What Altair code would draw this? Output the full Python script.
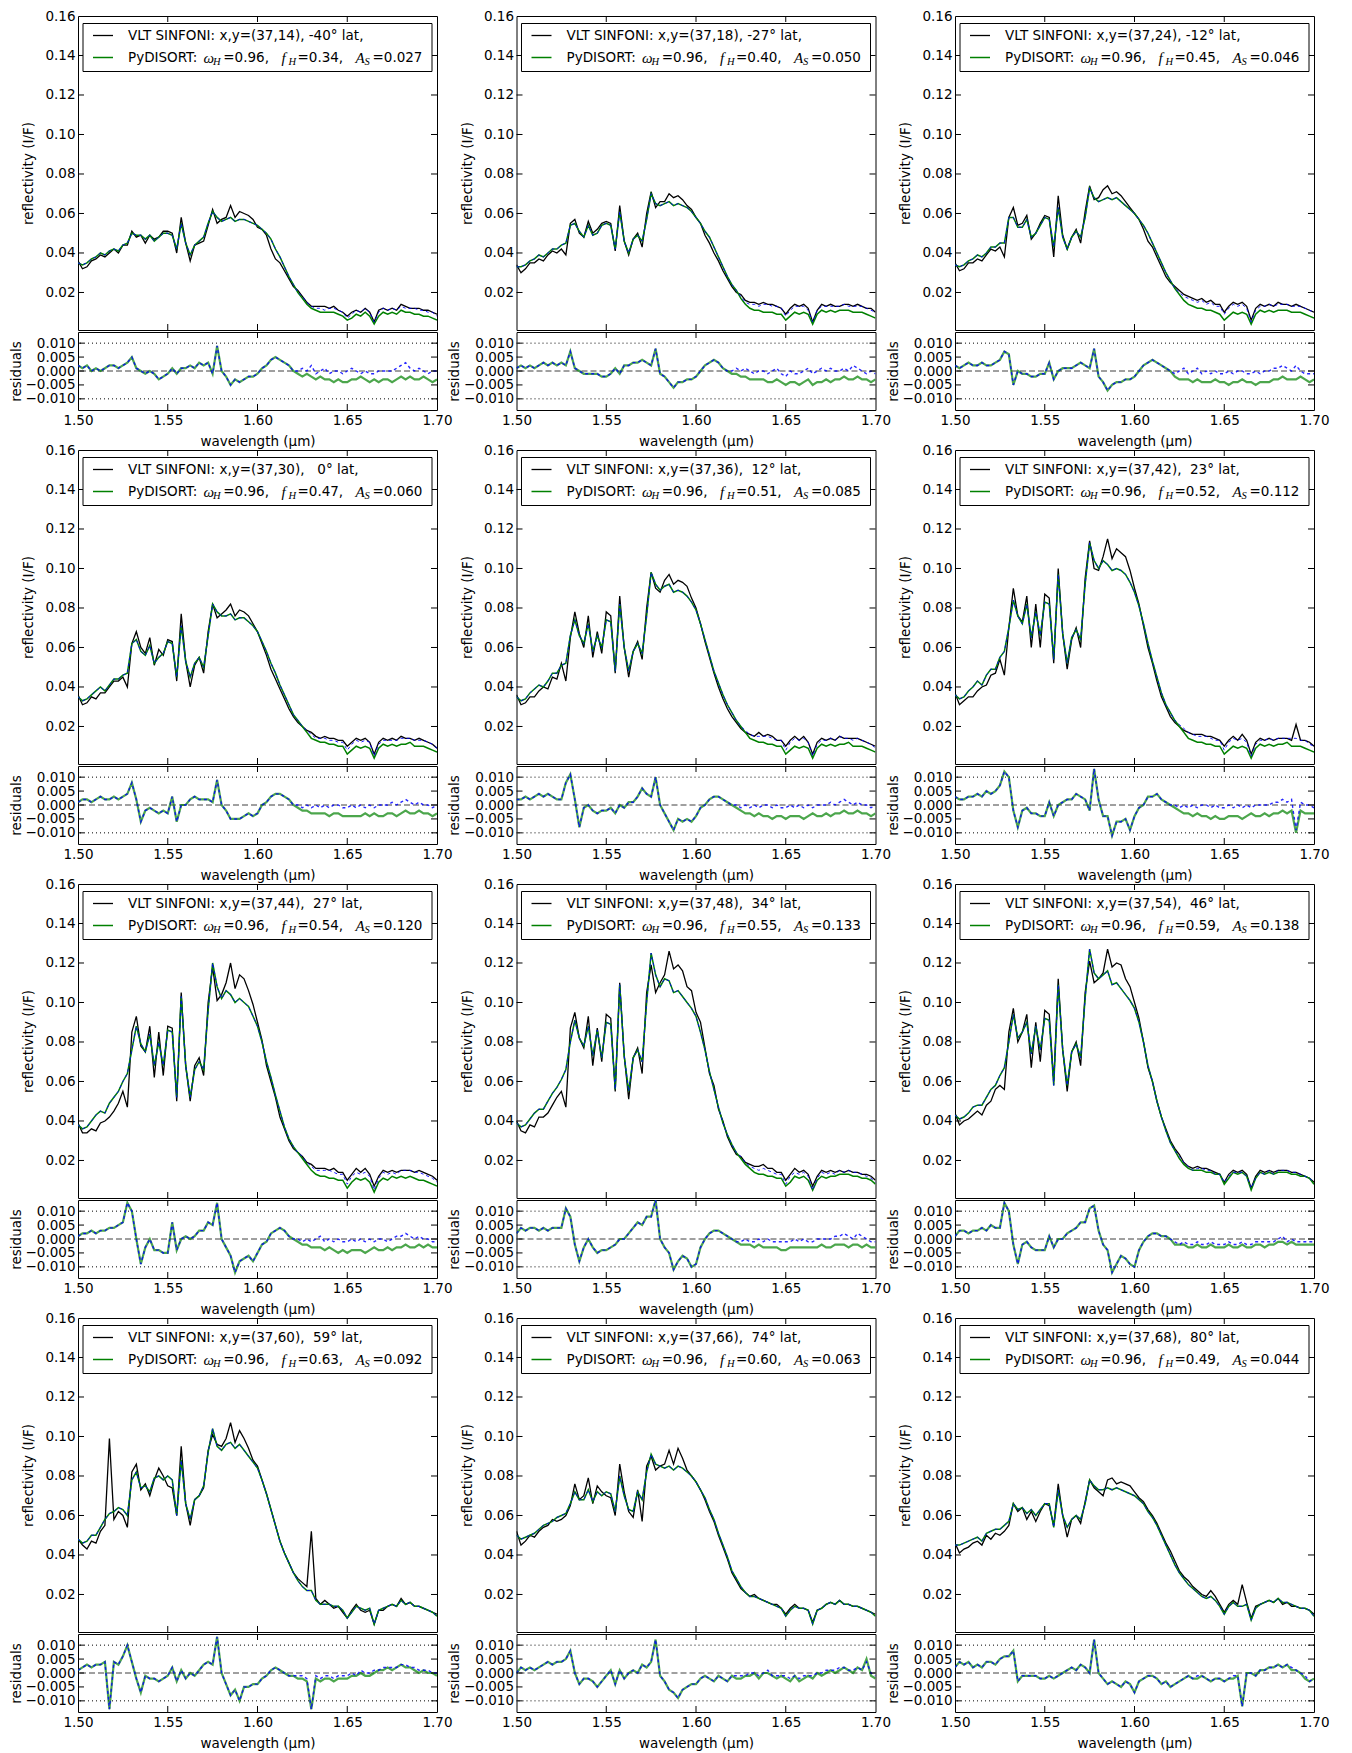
import altair as alt
import pandas as pd

# ---------------- data (reflectivity and residuals in units of 1e-3) ----------------
WAVELENGTH = [1.5, 1.5025, 1.505, 1.5075, 1.51, 1.5125, 1.515, 1.5175, 1.52, 1.5225,
              1.525, 1.5275, 1.53, 1.5325, 1.535, 1.5375, 1.54, 1.5425, 1.545, 1.5475,
              1.55, 1.5525, 1.555, 1.5575, 1.56, 1.5625, 1.565, 1.5675, 1.57, 1.5725,
              1.575, 1.5775, 1.58, 1.5825, 1.585, 1.5875, 1.59, 1.5925, 1.595, 1.5975,
              1.6, 1.6025, 1.605, 1.6075, 1.61, 1.6125, 1.615, 1.6175, 1.62, 1.6225,
              1.625, 1.6275, 1.63, 1.6325, 1.635, 1.6375, 1.64, 1.6425, 1.645, 1.6475,
              1.65, 1.6525, 1.655, 1.6575, 1.66, 1.6625, 1.665, 1.6675, 1.67, 1.6725,
              1.675, 1.6775, 1.68, 1.6825, 1.685, 1.6875, 1.69, 1.6925, 1.695, 1.6975, 1.7]

XY = ["37,14", "37,18", "37,24", "37,30", "37,36", "37,42",
      "37,44", "37,48", "37,54", "37,60", "37,66", "37,68"]
LAT = [-40, -27, -12, 0, 12, 23, 27, 34, 46, 59, 74, 80]
OMEGA_H = "0.96"
F_H = ["0.34", "0.40", "0.45", "0.47", "0.51", "0.52", "0.54", "0.55", "0.59", "0.63", "0.60", "0.49"]
A_S = ["0.027", "0.050", "0.046", "0.060", "0.085", "0.112", "0.120", "0.133", "0.138", "0.092", "0.063", "0.044"]

OBS_01 = [36,32,33,36,37,39,38,40,42,40, 44,44,51,48,49,45,49,47,48,51, 51,50,40,58,45,36,44,45,46,54,
          62,55,57,58,64,58,61,60,59,57, 53,52,49,42,37,35,31,27,23,21, 18,15,13,13,13,13,12,13,11,10,
          8,10,11,10,12,10,5,11,12,11, 12,11,14,13,12,12,12,11,11,10,9]
MOD_G_01 = [35,34,35,37,38,40,39,41,42,41, 44,45,50,49,49,47,49,46,48,50, 50,49,42,55,45,39,44,46,48,55,
            61,58,56,57,58,56,57,57,56,55, 54,52,50,47,42,38,33,28,24,20, 17,14,12,11,10,10,10,10,9,8,
            6,7,9,8,10,8,4,8,10,9, 10,9,11,10,10,9,9,8,8,7,6]
MOD_B_01 = MOD_G_01[:50] + [18,15,13,12,12,11,12,12,11,10, 7,9,11,10,12,10,5,10,12,11, 12,11,13,12,12,12,11,11,10,10,8]
RES_G_01 = [2,1,2,0,1,0,1,2,2,1, 2,3,5,1,0,-1,0,-1,-3,-2, -1,1,-1,1,1,2,1,3,2,3,
            -1,9,0,-2,-5,-3,-4,-3,-2,-2, -1,1,2,4,5,4,3,2,0,-1, -2,-1,-2,-3,-2,-3,-3,-4,-3,-4,
            -4,-3,-3,-2,-3,-4,-3,-4,-3,-3, -4,-3,-2,-3,-2,-3,-3,-2,-3,-4,-3]
RES_B_01 = RES_G_01[:48] + [0,0, 1,0,2,-1,0,1,-1,0,0,-1, 0,1,0,-1,0,-1,-1,0,0,0, 0,1,2,3,1,0,1,0,-1,0,0]

OBS_02 = [34,30,32,35,35,37,36,39,41,40, 42,39,55,57,50,48,56,50,52,55, 56,55,41,64,46,39,47,50,43,60,
          71,63,66,66,70,68,69,67,64,62, 58,55,49,45,40,36,31,27,23,20, 19,16,15,15,14,15,14,14,13,12,
          9,12,14,13,14,12,5,11,14,13, 14,13,13,14,14,13,14,13,12,12,10]
MOD_G_02 = [33,33,34,36,37,39,38,40,42,42, 44,45,54,55,51,48,54,49,50,54, 55,54,42,61,46,40,47,49,46,57,
            70,65,64,65,66,64,65,64,63,61, 58,55,51,48,43,38,33,28,24,21, 17,14,12,11,11,10,10,10,9,9,
            6,8,10,9,10,9,4,9,11,10, 11,10,11,11,11,10,10,10,9,8,7]
MOD_B_02 = MOD_G_02[:50] + [18,15,14,14,13,14,14,13,13,12, 8,11,13,13,13,11,5,11,13,13, 13,13,13,14,13,13,13,13,12,11,10]
RES_G_02 = [1,2,1,2,1,2,3,2,3,2, 3,2,7,1,0,-1,-1,-1,-1,-2, -2,-1,1,-1,2,2,3,3,4,3,
            2,8,-1,-2,-4,-6,-4,-4,-3,-3, -2,0,2,3,4,3,1,0,-1,-1, -2,-2,-3,-3,-3,-3,-4,-4,-3,-4,
            -5,-4,-4,-5,-4,-3,-5,-4,-4,-3, -4,-3,-3,-2,-3,-3,-2,-3,-3,-4,-3]
RES_B_02 = RES_G_02[:48] + [0,1, 0,1,0,-1,0,0,-1,0,1,-1, -2,0,-1,-1,0,1,-1,0,1,0, 1,0,0,1,0,2,1,0,-1,0,-1]

OBS_03 = [35,31,32,35,35,37,36,39,42,41, 43,38,58,63,54,55,59,47,50,55, 59,58,38,69,49,42,48,52,45,61,
          74,67,68,72,74,70,71,69,66,63, 60,57,52,46,43,38,33,28,25,23, 21,19,18,17,16,17,15,16,14,14,
          10,13,15,14,15,13,6,12,14,13, 14,13,15,14,14,13,14,13,12,11,10]
MOD_G_03 = [34,33,34,36,37,39,38,40,43,43, 45,45,58,58,53,53,57,48,50,54, 58,57,43,63,48,42,48,51,48,58,
            73,68,66,67,68,67,68,66,64,62, 60,57,54,50,45,40,35,30,26,22, 19,16,14,13,12,12,11,11,10,9,
            6,8,10,9,10,9,4,9,11,10, 11,10,11,11,11,10,10,10,9,8,7]
MOD_B_03 = MOD_G_03[:50] + [20,18,17,16,15,16,14,15,13,13, 9,12,14,13,14,12,5,11,13,13, 14,13,14,14,14,13,13,13,12,11,10]
RES_G_03 = [2,1,2,3,2,2,3,2,2,3, 4,7,6,-5,0,-1,-1,-2,-2,-1, -1,3,-3,0,1,1,1,2,3,2,
            1,8,-2,-4,-7,-5,-4,-4,-3,-3, -2,0,2,3,4,3,2,1,0,-2, -3,-3,-3,-4,-3,-4,-4,-4,-3,-4,
            -4,-5,-4,-4,-3,-4,-4,-5,-4,-4, -4,-3,-3,-2,-3,-3,-3,-2,-3,-4,-3]
RES_B_03 = RES_G_03[:48] + [0,-1, 0,1,-1,0,1,-1,0,-1,0,-1, -1,0,-1,0,0,-1,-1,0,-1,0, 0,1,1,2,1,0,2,0,-1,-1,-1]

OBS_04 = [36,31,32,35,34,37,37,40,43,43, 45,40,62,68,60,57,65,51,59,56, 64,63,43,77,53,40,51,55,47,68,
          82,75,77,79,82,76,79,78,76,72, 68,62,56,49,44,39,34,29,25,22, 20,18,17,15,14,15,14,14,13,13,
          10,12,14,13,14,12,6,12,14,13, 14,13,15,14,14,13,14,13,12,11,9]
MOD_G_04 = [35,33,34,36,38,40,38,41,44,44, 46,47,62,64,58,56,61,52,55,57, 63,62,45,71,53,45,52,55,50,66,
            82,78,76,76,77,74,75,75,73,71, 68,63,58,52,47,41,36,31,26,23, 20,17,14,13,12,12,11,11,10,10,
            6,8,10,9,10,9,4,9,11,10, 11,10,11,11,12,10,10,10,9,8,7]
MOD_B_04 = MOD_G_04[:50] + [20,18,16,14,14,14,13,13,12,12, 8,11,13,12,13,12,5,11,13,13, 13,13,14,14,14,13,13,13,12,11,9]
RES_G_04 = [1,2,2,1,2,3,2,2,3,2, 3,4,8,2,-6,-2,-1,-2,-3,-2, -3,3,-6,0,0,2,3,2,2,2,
            1,9,0,-2,-5,-5,-5,-4,-3,-4, -3,0,1,3,4,4,3,2,0,-1, -2,-2,-3,-3,-3,-3,-4,-3,-3,-4,
            -4,-4,-4,-4,-3,-4,-3,-4,-4,-3, -3,-4,-3,-2,-3,-3,-2,-3,-3,-4,-3]
RES_B_04 = RES_G_04[:48] + [0,0, -1,0,-1,0,-1,0,-1,0,0,-1, -1,0,-1,0,-1,0,-1,0,0,0, 1,0,1,2,1,0,1,0,0,-1,0]

OBS_05 = [36,31,32,35,35,38,40,39,45,44, 52,43,65,78,67,60,76,55,68,57, 78,76,47,86,60,45,58,63,54,80,
          98,90,88,94,97,92,94,93,91,85, 80,72,63,55,47,40,34,29,25,22, 19,17,16,15,17,15,16,15,13,13,
          10,13,15,13,15,12,6,12,14,13, 14,13,15,14,14,14,14,13,12,11,10]
MOD_G_05 = [35,33,34,37,39,41,40,43,47,47, 51,52,66,74,66,62,72,58,66,60, 74,73,48,82,60,48,58,62,57,76,
            98,92,89,91,92,88,89,88,86,83, 79,72,64,56,48,42,36,31,27,23, 20,17,14,13,12,12,11,11,10,10,
            6,8,10,9,10,9,4,9,11,10, 11,10,11,11,12,10,10,10,9,8,7]
MOD_B_05 = MOD_G_05[:50] + [20,18,16,15,15,15,15,14,13,13, 8,12,14,13,14,12,5,11,13,13, 14,13,15,14,14,13,14,13,12,11,9]
RES_G_05 = [2,2,3,2,3,4,3,4,3,2, 2,8,11,2,-8,-1,0,-2,-3,-2, -2,-1,-3,0,-1,1,1,3,6,4,
            3,10,0,-3,-6,-9,-5,-6,-5,-6, -4,-1,0,2,3,3,2,1,0,-1, -2,-3,-3,-4,-3,-4,-4,-5,-4,-4,
            -5,-4,-4,-4,-5,-4,-3,-4,-4,-3, -4,-3,-3,-2,-3,-3,-2,-3,-3,-4,-3]
RES_B_05 = RES_G_05[:48] + [0,0, -1,0,-1,0,-1,0,0,-1,0,-1, -1,0,-1,0,-1,0,-1,0,0,0, 1,0,1,2,1,0,1,0,0,-1,0]

OBS_06 = [37,31,33,35,35,38,40,41,46,47, 54,46,70,90,76,73,86,60,82,60, 87,85,52,100,67,49,64,70,60,95,
          114,100,99,106,115,105,110,108,106,99, 90,82,71,60,52,43,35,30,25,22, 20,18,17,16,16,16,15,15,14,13,
          10,13,15,13,16,13,6,12,14,13, 14,13,14,14,14,13,21,13,13,12,10]
MOD_G_06 = [36,34,35,38,40,43,41,46,49,49, 55,58,70,84,76,72,82,65,78,66, 83,82,54,97,67,52,65,69,64,92,
            113,104,100,104,102,99,100,99,97,93, 88,81,72,62,53,45,37,31,27,23, 20,17,14,13,12,12,11,11,10,10,
            6,8,10,9,10,9,4,9,11,10, 11,10,11,11,12,10,10,10,9,8,7]
MOD_B_06 = MOD_G_06[:50] + [21,19,17,16,15,15,15,14,13,13, 8,12,14,13,14,12,5,11,13,13, 14,13,14,14,14,14,14,13,13,11,10]
RES_G_06 = [3,2,2,3,3,4,3,5,4,5, 7,12,10,-2,-8,-2,-1,-3,-3,-4, -4,1,-4,0,1,2,2,4,3,2,
            -2,13,2,-4,-4,-11,-6,-6,-5,-9, -4,-1,0,3,3,4,2,1,0,-1, -2,-3,-3,-4,-3,-4,-4,-5,-4,-5,
            -5,-4,-4,-4,-5,-4,-3,-4,-4,-3, -4,-3,-3,-2,-3,-2,-10,-2,-3,-3,-3]
RES_B_06 = RES_G_06[:48] + [0,0, -1,0,-1,0,-1,0,0,-1,0,-1, -1,0,-1,0,-1,0,-1,0,0,0, 0,1,1,2,1,2,-9,1,0,0,-1]

OBS_07 = [39,34,34,36,35,39,40,42,45,49, 55,47,85,93,78,75,88,62,85,63, 88,87,50,105,68,50,68,72,63,100,
          118,101,104,110,120,107,114,112,106,99, 90,81,68,60,52,42,36,30,26,24, 22,19,18,16,16,16,15,16,14,14,
          10,13,16,14,16,13,7,12,15,14, 15,14,15,15,15,14,15,14,13,12,10]
MOD_G_07 = [38,36,37,40,43,45,44,49,52,55, 60,64,76,88,79,75,84,68,80,68, 86,85,52,103,68,52,66,70,66,96,
            120,108,102,106,104,100,102,100,98,93, 88,80,70,62,53,45,37,31,27,24, 21,18,15,13,12,12,11,11,10,10,
            6,9,11,10,11,9,4,9,11,10, 12,11,12,11,12,11,10,10,9,8,7]
MOD_B_07 = MOD_G_07[:50] + [22,19,17,15,15,15,15,14,13,13, 8,12,14,13,14,12,5,11,14,13, 14,13,15,15,15,14,14,13,12,11,9]
RES_G_07 = [1,2,2,3,2,3,3,4,4,5, 6,13,10,0,-9,-3,0,-4,-4,-5, -5,6,-4,0,1,0,1,3,3,6,
            5,13,0,-3,-6,-12,-8,-7,-6,-8, -5,-2,-1,2,3,4,3,1,0,-1, -2,-2,-3,-3,-3,-4,-3,-4,-5,-4,
            -5,-4,-4,-4,-5,-4,-3,-4,-4,-3, -4,-3,-3,-2,-3,-3,-2,-3,-2,-3,-3]
RES_B_07 = RES_G_07[:48] + [0,0, -1,0,-1,0,1,-1,0,-1,0,-1, -1,0,-1,0,-1,0,-1,0,0,-1, 0,1,1,2,1,0,1,0,0,-1,-1]

OBS_08 = [40,35,34,38,37,42,42,44,48,52, 55,47,87,95,82,77,93,68,87,70, 94,92,55,110,73,51,72,77,64,105,
          119,105,110,114,126,117,119,116,108,106, 95,90,77,64,58,46,40,32,27,23, 22,19,18,17,17,18,16,16,14,14,
          10,13,16,14,15,13,7,12,15,14, 15,14,15,14,15,14,14,13,13,12,10]
MOD_G_08 = [39,37,38,41,44,46,46,50,54,57, 61,66,80,91,82,78,88,73,86,72, 90,89,56,109,73,55,72,76,70,100,
            125,114,108,112,111,105,106,103,100,97, 93,85,76,65,56,47,39,33,28,24, 21,18,16,14,13,13,12,12,11,11,
            7,9,12,11,12,10,5,10,12,11, 12,12,13,13,13,12,12,11,11,10,8]
MOD_B_08 = MOD_G_08[:50] + [22,19,17,16,15,16,15,14,13,13, 8,12,14,13,14,12,5,11,14,13, 14,13,15,14,15,14,14,13,12,11,9]
RES_G_08 = [2,4,3,4,4,3,4,3,4,4, 4,11,8,-2,-8,-3,0,-3,-5,-4, -4,-3,-2,0,0,2,4,6,5,8,
            8,14,0,-3,-5,-11,-8,-6,-7,-10, -9,-3,0,2,3,3,2,1,0,-1, -2,-2,-2,-3,-2,-3,-3,-3,-3,-4,
            -4,-3,-3,-3,-3,-3,-3,-3,-2,-3, -3,-2,-2,-2,-3,-2,-2,-3,-2,-3,-3]
RES_B_08 = RES_G_08[:48] + [0,-1, -1,0,-1,-1,0,-1,0,-1,-1,-1, -1,-1,0,-1,0,-1,-1,0,0,0, 0,1,1,2,1,0,2,1,0,-1,-1]

OBS_09 = [44,38,40,41,43,45,43,48,50,56, 58,56,85,97,80,85,94,67,90,70, 96,94,60,112,76,55,75,80,68,105,
          121,110,112,115,127,118,120,119,112,108, 100,92,80,67,60,50,42,36,30,26, 23,19,17,16,17,16,16,15,14,13,
          9,13,15,14,15,13,6,12,15,14, 15,14,15,15,15,14,14,13,12,11,9]
MOD_G_09 = [43,41,42,44,47,48,48,52,56,58, 63,67,80,94,82,85,90,74,88,76, 92,91,58,109,76,58,75,79,72,102,
            127,115,112,114,116,109,110,107,104,101, 97,90,80,68,60,50,42,35,29,25, 21,18,16,15,15,15,14,14,13,13,
            8,11,14,13,14,12,5,11,14,13, 14,13,14,14,14,13,13,12,12,11,8]
MOD_B_09 = MOD_G_09[:50] + [22,19,17,15,16,16,15,15,13,13, 9,12,14,14,14,12,6,11,14,13, 15,13,15,15,15,14,14,13,12,11,9]
RES_G_09 = [1,3,3,2,3,3,4,3,5,4, 4,13,10,-2,-9,-2,-1,-3,-4,-4, -4,1,-3,0,0,2,3,4,6,6,
            11,12,3,-2,-4,-12,-9,-6,-7,-9, -10,-4,-1,1,2,2,1,1,0,-2, -2,-2,-3,-3,-2,-3,-3,-2,-3,-3,
            -3,-2,-3,-3,-2,-3,-3,-2,-2,-3, -2,-2,-1,-1,-2,-1,-2,-2,-2,-2,-2]
RES_B_09 = RES_G_09[:48] + [0,-1, -2,-1,-2,-2,-1,-2,-2,-1,-2,-2, -2,-1,-2,-2,-1,-2,-2,-1,-1,-1, -1,-1,0,1,-1,0,-1,-1,-1,-1,-1]

OBS_10 = [48,45,43,47,46,52,55,99,58,62, 60,54,82,86,73,76,70,78,84,80, 75,74,60,95,66,55,68,70,74,93,
          101,96,95,99,107,97,103,99,94,88, 85,78,71,63,55,47,41,36,31,28, 26,24,52,18,15,17,15,13,14,11,
          8,12,15,12,11,12,5,12,12,14, 15,14,18,15,16,14,14,13,12,11,10]
MOD_G_10 = [48,46,47,50,50,54,58,61,62,64, 63,60,78,82,74,75,72,79,80,78, 80,78,60,88,66,58,68,70,75,92,
            104,95,93,96,97,94,96,93,90,87, 84,78,71,63,55,47,41,36,31,27, 24,22,22,17,15,15,15,14,14,12,
            8,11,14,13,12,13,5,12,13,14, 15,14,17,15,16,14,14,13,12,11,9]
MOD_B_10 = list(MOD_G_10)  # blue dashed coincides with green here
RES_G_10 = [1,2,3,2,3,3,4,-13,4,3, 6,10,4,-2,-7,-1,-2,-2,-3,-2, -1,2,-3,1,-2,0,-1,1,3,4,
            3,13,0,-4,-8,-6,-10,-5,-5,-4, -4,-2,-1,1,2,1,0,-1,-1,-2, -2,-3,-13,-2,-3,-2,-2,-3,-2,-2,
            -2,-1,-1,0,-1,-1,0,1,1,2, 1,2,3,2,2,1,0,1,0,0,-1]
RES_B_10 = RES_G_10[:48] + [-1,-1, -1,-2,-13,-1,-2,-1,-1,-2,-1,-1, -1,0,-1,1,0,0,1,1,2,2, 2,2,3,3,2,2,1,1,1,0,0]

OBS_11 = [52,45,47,50,49,52,54,55,58,57, 58,60,65,76,68,70,79,66,75,72, 70,69,60,86,72,62,59,73,57,85,
          90,83,85,86,93,86,94,89,83,80, 77,73,68,62,57,50,44,38,31,27, 23,21,19,20,18,17,16,15,15,13,
          10,13,15,13,13,12,6,12,13,15, 16,15,17,15,15,14,14,13,12,11,10]
MOD_G_11 = [50,48,49,50,51,53,55,56,57,59, 60,61,66,72,68,68,73,67,72,70, 72,71,62,80,70,63,62,72,68,82,
            91,86,85,84,85,83,85,84,82,80, 77,73,69,63,58,51,45,39,32,28, 24,21,19,19,18,17,16,15,14,13,
            9,12,14,13,13,12,5,12,13,15, 16,15,17,15,15,14,14,13,12,11,9]
MOD_B_11 = list(MOD_G_11)
RES_G_11 = [0,2,1,2,1,2,3,4,3,4, 4,5,8,0,-4,-2,-2,-3,-5,-3, -1,1,-4,1,-2,0,1,0,3,2,
            4,12,-1,-3,-6,-7,-9,-6,-5,-4, -4,-2,-1,-2,-3,-1,-2,-3,-1,-2, -2,-1,-1,0,-2,0,0,-1,-2,-1,
            -2,-3,-1,-3,-2,-1,-2,0,-1,0, 1,0,1,2,1,0,2,1,5,-1,-2]
RES_B_11 = RES_G_11[:48] + [-1,-1, -1,-1,0,0,-1,0,1,-1,-1,-1, -1,-2,-1,-2,-1,-1,-1,0,0,1, 1,1,2,2,1,1,2,1,4,0,-1]

OBS_12 = [46,41,43,44,46,47,45,50,48,51, 50,52,55,66,62,64,58,62,57,62, 66,65,55,76,60,49,58,60,56,67,
          78,74,72,70,78,79,76,77,76,75, 72,69,67,63,60,56,51,46,42,37, 32,29,27,24,22,20,19,22,19,15,
          11,15,17,15,25,16,8,14,15,16, 17,16,18,15,16,14,14,13,13,12,10]
MOD_G_12 = [45,45,46,47,48,49,47,51,52,53, 53,55,57,66,63,64,61,63,60,63, 66,66,54,73,60,54,58,60,58,66,
            78,75,73,73,74,73,74,73,72,71, 70,68,66,62,59,55,50,45,40,35, 31,28,25,23,21,19,18,19,17,14,
            10,14,16,14,14,15,7,13,15,16, 17,16,18,16,16,15,14,13,13,12,9]
MOD_B_12 = list(MOD_G_12)
RES_G_12 = [2,4,3,4,2,3,2,4,4,3, 5,6,6,8,-3,-1,-1,-1,-1,-2, -2,-1,-2,-1,0,1,2,1,3,2,
            0,12,0,-2,-4,-3,-4,-5,-3,-4, -7,-3,-2,-1,-1,-2,-4,-3,-5,-4, -3,-2,-1,-2,-2,-1,-2,-3,-2,-2,
            -3,-2,-2,-1,-12,0,0,-1,1,1, 2,2,3,2,3,1,1,0,-2,-3,-2]
RES_B_12 = RES_G_12[:48] + [-5,-4, -3,-2,-1,-2,-1,-1,-2,-3,-2,-2, -3,-2,-1,-1,-12,0,0,-1,1,1, 2,2,3,2,3,2,1,0,-1,-3,-2]

OBS = [OBS_01, OBS_02, OBS_03, OBS_04, OBS_05, OBS_06, OBS_07, OBS_08, OBS_09, OBS_10, OBS_11, OBS_12]
MOD_G = [MOD_G_01, MOD_G_02, MOD_G_03, MOD_G_04, MOD_G_05, MOD_G_06, MOD_G_07, MOD_G_08, MOD_G_09, MOD_G_10, MOD_G_11, MOD_G_12]
MOD_B = [MOD_B_01, MOD_B_02, MOD_B_03, MOD_B_04, MOD_B_05, MOD_B_06, MOD_B_07, MOD_B_08, MOD_B_09, MOD_B_10, MOD_B_11, MOD_B_12]
RES_G = [RES_G_01, RES_G_02, RES_G_03, RES_G_04, RES_G_05, RES_G_06, RES_G_07, RES_G_08, RES_G_09, RES_G_10, RES_G_11, RES_G_12]
RES_B = [RES_B_01, RES_B_02, RES_B_03, RES_B_04, RES_B_05, RES_B_06, RES_B_07, RES_B_08, RES_B_09, RES_B_10, RES_B_11, RES_B_12]

for group in (OBS, MOD_G, MOD_B, RES_G, RES_B):
    for k, arr in enumerate(group):
        assert len(arr) == len(WAVELENGTH), (k, len(arr))

X_TICKS = [1.50, 1.55, 1.60, 1.65, 1.70]
YM_TICKS = [0.02, 0.04, 0.06, 0.08, 0.10, 0.12, 0.14, 0.16]
YR_TICKS = [-0.010, -0.005, 0.0, 0.005, 0.010]

# ---------------- styling / layout ----------------
FONT = "DejaVu Sans"
MATH = "Liberation Serif"
FS = 13.5
W, HM, HR = 359, 314, 78
TL = 6
NB = "\u00a0"

XS = alt.Scale(domain=[1.5, 1.7], nice=False, zero=False)
YM = alt.Scale(domain=[0.001, 0.16], nice=False, zero=False)
YR = alt.Scale(domain=[-0.014, 0.014], nice=False, zero=False)

ONE = pd.DataFrame({"k": [0]})
XT = pd.DataFrame({"v": X_TICKS[1:-1]})
YMT = pd.DataFrame({"v": YM_TICKS[:-1]})
YRT = pd.DataFrame({"v": YR_TICKS})
DOT = pd.DataFrame({"v": [0.010, -0.010]})
ZERO = pd.DataFrame({"v": [0.0]})


def x_ticks(h):
    enc = alt.X("v:Q", scale=XS, axis=None)
    top = alt.Chart(XT).mark_rule(color="black", strokeWidth=1).encode(x=enc, y=alt.value(0), y2=alt.value(TL))
    bot = alt.Chart(XT).mark_rule(color="black", strokeWidth=1).encode(x=enc, y=alt.value(h - TL), y2=alt.value(h))
    return [top, bot]


def y_ticks(df, scale):
    enc = alt.Y("v:Q", scale=scale, axis=None)
    left = alt.Chart(df).mark_rule(color="black", strokeWidth=1).encode(y=enc, x=alt.value(0), x2=alt.value(TL))
    right = alt.Chart(df).mark_rule(color="black", strokeWidth=1).encode(y=enc, x=alt.value(W - TL), x2=alt.value(W))
    return [left, right]


def seg(px, py, txt, font=FONT, size=FS, italic=False):
    kw = dict(align="left", baseline="middle", font=font, fontSize=size, color="black", text=txt)
    if italic:
        kw["fontStyle"] = "italic"
    return alt.Chart(ONE).mark_text(**kw).encode(x=alt.value(px), y=alt.value(py))


def legend(i):
    y1, y2, ys = 19.5, 41.5, 45.8
    box = alt.Chart(ONE).mark_rect(fill="white", stroke="black", strokeWidth=1).encode(
        x=alt.value(5), x2=alt.value(354), y=alt.value(7.5), y2=alt.value(55.5))
    s1 = alt.Chart(ONE).mark_rule(color="black", strokeWidth=1.3).encode(
        x=alt.value(15), x2=alt.value(35), y=alt.value(y1))
    s2 = alt.Chart(ONE).mark_rule(color="#008000", strokeWidth=1.5).encode(
        x=alt.value(15), x2=alt.value(35), y=alt.value(y2))
    line1 = f"VLT SINFONI: x,y=({XY[i]}), {LAT[i]:3d}° lat,".replace(" ", NB)
    return [
        box, s1, s2,
        seg(50, y1, line1),
        seg(50, y2, "PyDISORT:"),
        seg(125.5, y2, "ω", MATH, 15, True),
        seg(135, ys, "H", MATH, 10.5, True),
        seg(145.3, y2, "=" + OMEGA_H + ","),
        seg(203.5, y2, "f", MATH, 15, True),
        seg(210.5, ys, "H", MATH, 10.5, True),
        seg(219.5, y2, "=" + F_H[i] + ","),
        seg(277.5, y2, "A", MATH, 15, True),
        seg(286.5, ys, "S", MATH, 10.5, True),
        seg(294.5, y2, "=" + A_S[i]),
    ]


def panel(i):
    df = pd.DataFrame({
        "w": WAVELENGTH,
        "obs": [v / 1000 for v in OBS[i]],
        "g": [v / 1000 for v in MOD_G[i]],
        "b": [v / 1000 for v in MOD_B[i]],
        "rg": [v / 1000 for v in RES_G[i]],
        "rb": [v / 1000 for v in RES_B[i]],
    })
    base = alt.Chart(df)
    xm = alt.X("w:Q", scale=XS, axis=None)
    black = base.mark_line(color="black", strokeWidth=1.3, clip=True).encode(
        x=xm,
        y=alt.Y("obs:Q", scale=YM, axis=alt.Axis(values=YM_TICKS, format=".2f", title="reflectivity (I/F)",
                                                   titlePadding=9, labelPadding=3, labelFlush=False)))
    green = base.mark_line(color="#008000", strokeWidth=1.5, clip=True).encode(
        x=xm, y=alt.Y("g:Q", scale=YM, axis=None))
    blue = base.mark_line(color="#0000ff", strokeWidth=0.9, strokeDash=[3, 3], clip=True).encode(
        x=xm, y=alt.Y("b:Q", scale=YM, axis=None))
    main = alt.layer(black, green, blue, *x_ticks(HM), *y_ticks(YMT, YM), *legend(i)).resolve_axis(
        x="independent", y="independent").properties(width=W, height=HM)

    dots = alt.Chart(DOT).mark_rule(color="black", strokeWidth=1, strokeDash=[1, 3]).encode(
        y=alt.Y("v:Q", scale=YR, axis=None))
    zero = alt.Chart(ZERO).mark_rule(color="black", strokeWidth=1, strokeDash=[6, 3], opacity=0.75).encode(
        y=alt.Y("v:Q", scale=YR, axis=None))
    rg = base.mark_line(color="#008000", strokeWidth=2.2, opacity=0.7, clip=True).encode(
        x=alt.X("w:Q", scale=XS, axis=alt.Axis(values=X_TICKS, format=".2f", title="wavelength (μm)",
                                               labelPadding=3, titlePadding=8, labelFlush=False)),
        y=alt.Y("rg:Q", scale=YR, axis=alt.Axis(values=YR_TICKS, format=".3f", title="residuals",
                                                titlePadding=2, labelPadding=3, labelFlush=False)))
    rb = base.mark_line(color="#0000ff", strokeWidth=1.4, strokeDash=[3, 3], opacity=0.85, clip=True).encode(
        x=alt.X("w:Q", scale=XS, axis=None), y=alt.Y("rb:Q", scale=YR, axis=None))
    resid = alt.layer(dots, zero, rg, rb, *x_ticks(HR), *y_ticks(YRT, YR)).resolve_axis(
        x="independent", y="independent").properties(width=W, height=HR)
    return alt.vconcat(main, resid, spacing=0)


rows = [alt.hconcat(*[panel(r * 3 + c) for c in range(3)], spacing=-6.5) for r in range(4)]
chart = alt.vconcat(*rows, spacing=-7).properties(
    padding={"left": 0, "top": 0, "right": 0, "bottom": 0}
).configure_view(
    stroke="black", strokeWidth=1
).configure_axis(
    labelFont=FONT, titleFont=FONT, labelFontSize=FS, titleFontSize=FS, titleFontWeight="normal",
    labelColor="black", titleColor="black", grid=False, domain=False, ticks=False, tickSize=0
)

chart.save("out.html", embed_options={"renderer": "svg", "actions": False})
